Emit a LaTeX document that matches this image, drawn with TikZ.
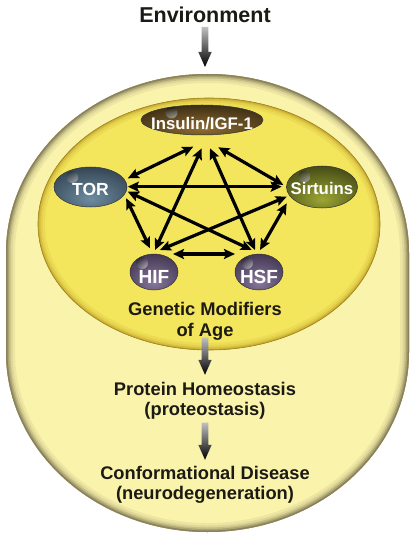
\documentclass[tikz,border=0pt]{standalone}
\usepackage{fontspec}
\setmainfont{Liberation Sans}
\usetikzlibrary{arrows.meta,calc,shapes.geometric}

\definecolor{outfill}{RGB}{250,243,172}
\definecolor{outedge}{RGB}{118,110,76}
\definecolor{infill}{RGB}{243,229,92}
\definecolor{inrim}{RGB}{198,168,46}
\definecolor{txtc}{RGB}{28,26,20}
\definecolor{insL}{RGB}{142,108,48}
\definecolor{insD}{RGB}{38,28,12}
\definecolor{torL}{RGB}{110,140,160}
\definecolor{torD}{RGB}{36,50,64}
\definecolor{sirL}{RGB}{156,166,52}
\definecolor{sirD}{RGB}{46,50,14}
\definecolor{hxL}{RGB}{136,120,156}
\definecolor{hxD}{RGB}{48,38,62}
\colorlet{insM}{insL!55!insD}
\colorlet{torM}{torL!55!torD}
\colorlet{sirM}{sirL!55!sirD}
\colorlet{hxM}{hxL!55!hxD}

\pgfdeclareradialshading{insglow}{\pgfpoint{0bp}{-15bp}}{color(0bp)=(insL); color(20bp)=(insM); color(44bp)=(insD); color(90bp)=(insD)}
\pgfdeclareradialshading{torglow}{\pgfpoint{0bp}{-15bp}}{color(0bp)=(torL); color(20bp)=(torM); color(44bp)=(torD); color(90bp)=(torD)}
\pgfdeclareradialshading{sirglow}{\pgfpoint{0bp}{-15bp}}{color(0bp)=(sirL); color(20bp)=(sirM); color(44bp)=(sirD); color(90bp)=(sirD)}
\pgfdeclareradialshading{hxglow}{\pgfpoint{0bp}{-15bp}}{color(0bp)=(hxL); color(20bp)=(hxM); color(44bp)=(hxD); color(90bp)=(hxD)}

\newcommand\gradarrow[2]{%
  \shade[top color=black!25, middle color=black!92, bottom color=black]
    ($(#1)+(-3.3,0)$) -- ($(#2)+(-3.3,-15)$) -- ($(#2)+(-6.7,-15)$) -- (#2)
    -- ($(#2)+(6.7,-15)$) -- ($(#2)+(3.3,-15)$) -- ($(#1)+(3.3,0)$) -- cycle;}

\tikzset{
  gnode/.style 2 args={ellipse, draw=black!80, line width=0.5pt, inner sep=0pt,
    text=white, shade, shading=#1,
    path picture={\shade[inner color=white, outer color=#2]
      ($(path picture bounding box.north west)!0.25!(path picture bounding box.south east)$) circle (6pt);}},
  net/.style={draw=black, line width=3.2pt,
    arrows={Stealth[length=11pt,width=10pt,inset=2pt]-Stealth[length=11pt,width=10pt,inset=2pt]}},
  lbl/.style={text=txtc, font=\fontsize{18.3}{20.5}\selectfont\bfseries, inner sep=0pt, anchor=base},
}

\begin{document}
\begin{tikzpicture}[x=1pt,y=-1pt]
\useasboundingbox (0,0) rectangle (415,537);
\fill[white] (0,0) rectangle (415,537);

\def\outerpath{(6,253) .. controls (6,154.1) and (96.2,74) .. (207.5,74)
  .. controls (318.8,74) and (409,154.1) .. (409,253) -- (409,352)
  .. controls (409,451.4) and (318.8,532) .. (207.5,532)
  .. controls (96.2,532) and (6,451.4) .. (6,352) -- cycle}
\def\innerpath{(209,224) ellipse [x radius=171pt, y radius=126pt]}

% outer body
\begin{scope}
  \clip \outerpath;
  \fill[outfill] \outerpath;
  \draw[line width=18pt, outedge!10!outfill] \outerpath;
  \draw[line width=13pt, outedge!22!outfill] \outerpath;
  \draw[line width=9pt, outedge!40!outfill] \outerpath;
  \draw[line width=6pt, outedge!60!outfill] \outerpath;
  \draw[line width=3pt, outedge!85!outfill] \outerpath;
\end{scope}

% inner ellipse
\begin{scope}
  \clip \innerpath;
  \fill[infill] \innerpath;
  \draw[line width=14pt, inrim!15!infill] \innerpath;
  \draw[line width=9pt, inrim!35!infill] \innerpath;
  \draw[line width=5pt, inrim!65!infill] \innerpath;
  \draw[line width=2pt, inrim] \innerpath;
\end{scope}
\draw[line width=0.6pt, inrim!80!black] \innerpath;

% network nodes
\node[gnode={insglow}{insD}, minimum width=122pt, minimum height=30pt,
  font=\fontsize{16.8}{18}\selectfont\bfseries, text height=20pt, text depth=0pt]
  (ins) at (202,120) {\makebox[0pt]{Insulin/IGF-1}};
\node[gnode={torglow}{torD}, minimum width=73pt, minimum height=40pt,
  font=\fontsize{17.5}{20}\selectfont\bfseries, text height=16.5pt, text depth=0pt]
  (tor) at (90.5,187) {\makebox[0pt]{TOR}};
\node[gnode={sirglow}{sirD}, minimum width=71pt, minimum height=42pt,
  font=\fontsize{16.8}{18}\selectfont\bfseries, text height=14pt, text depth=0pt]
  (sir) at (322,187) {\makebox[0pt]{Sirtuins}};
\node[gnode={hxglow}{hxD}, minimum width=48pt, minimum height=36pt,
  font=\fontsize{19}{20}\selectfont\bfseries, text height=23.6pt, text depth=0pt]
  (hif) at (154,272) {\makebox[0pt]{HIF}};
\node[gnode={hxglow}{hxD}, minimum width=48pt, minimum height=36pt,
  font=\fontsize{19}{20}\selectfont\bfseries, text height=23.6pt, text depth=0pt]
  (hsf) at (259,272) {\makebox[0pt]{HSF}};

% network connectors
\draw[net] ([shift={(-8.7,26.7)}]ins.center) -- ([shift={(37.3,-8.7)}]tor.center);
\draw[net] ([shift={(16.3,27.3)}]ins.center) -- ([shift={(-38.7,-2)}]sir.center);
\draw[net] ([shift={(-0.3,28.3)}]ins.center) -- ([shift={(1,-22)}]hif.center);
\draw[net] ([shift={(8,28.3)}]ins.center) -- ([shift={(-4,-22)}]hsf.center);
\draw[net] ([shift={(37.3,-0.3)}]tor.center) -- ([shift={(-40.3,-0.3)}]sir.center);
\draw[net] ([shift={(35.7,11.3)}]tor.center) -- ([shift={(-4,-23.7)}]hif.center);
\draw[net] ([shift={(37.3,4.7)}]tor.center) -- ([shift={(-7.3,-22)}]hsf.center);
\draw[net] ([shift={(-35.3,9.7)}]sir.center) -- ([shift={(6,-22)}]hif.center);
\draw[net] ([shift={(-35.3,16.3)}]sir.center) -- ([shift={(1,-22)}]hsf.center);
\draw[net] ([shift={(19,-18)}]hif.center) -- ([shift={(-24,-18)}]hsf.center);

% texts
\node[lbl, font=\fontsize{21.5}{24}\selectfont\bfseries] (env) at (205,22.7) {Environment};
\node[lbl] (gen) at (205,315.7) {\begin{tabular}[t]{@{}c@{}}Genetic Modifiers\\of Age\end{tabular}};
\node[lbl] (prot) at (205,395) {\begin{tabular}[t]{@{}c@{}}Protein Homeostasis\\(proteostasis)\end{tabular}};
\node[lbl] (conf) at (205,479) {\begin{tabular}[t]{@{}c@{}}Conformational Disease\\(neurodegeneration)\end{tabular}};

% flow arrows
\coordinate (envtip) at (205,67);
\coordinate (a1s) at ([yshift=-4.3pt]env.base);
\coordinate (a2s) at ([yshift=5pt]gen.south);
\coordinate (a2t) at ([yshift=5.65pt]prot.north);
\coordinate (a3s) at ([yshift=-0.85pt]prot.south);
\coordinate (a3t) at ([yshift=4.65pt]conf.north);
\gradarrow{a1s}{envtip}
\gradarrow{a2s}{a2t}
\gradarrow{a3s}{a3t}
\end{tikzpicture}
\end{document}
